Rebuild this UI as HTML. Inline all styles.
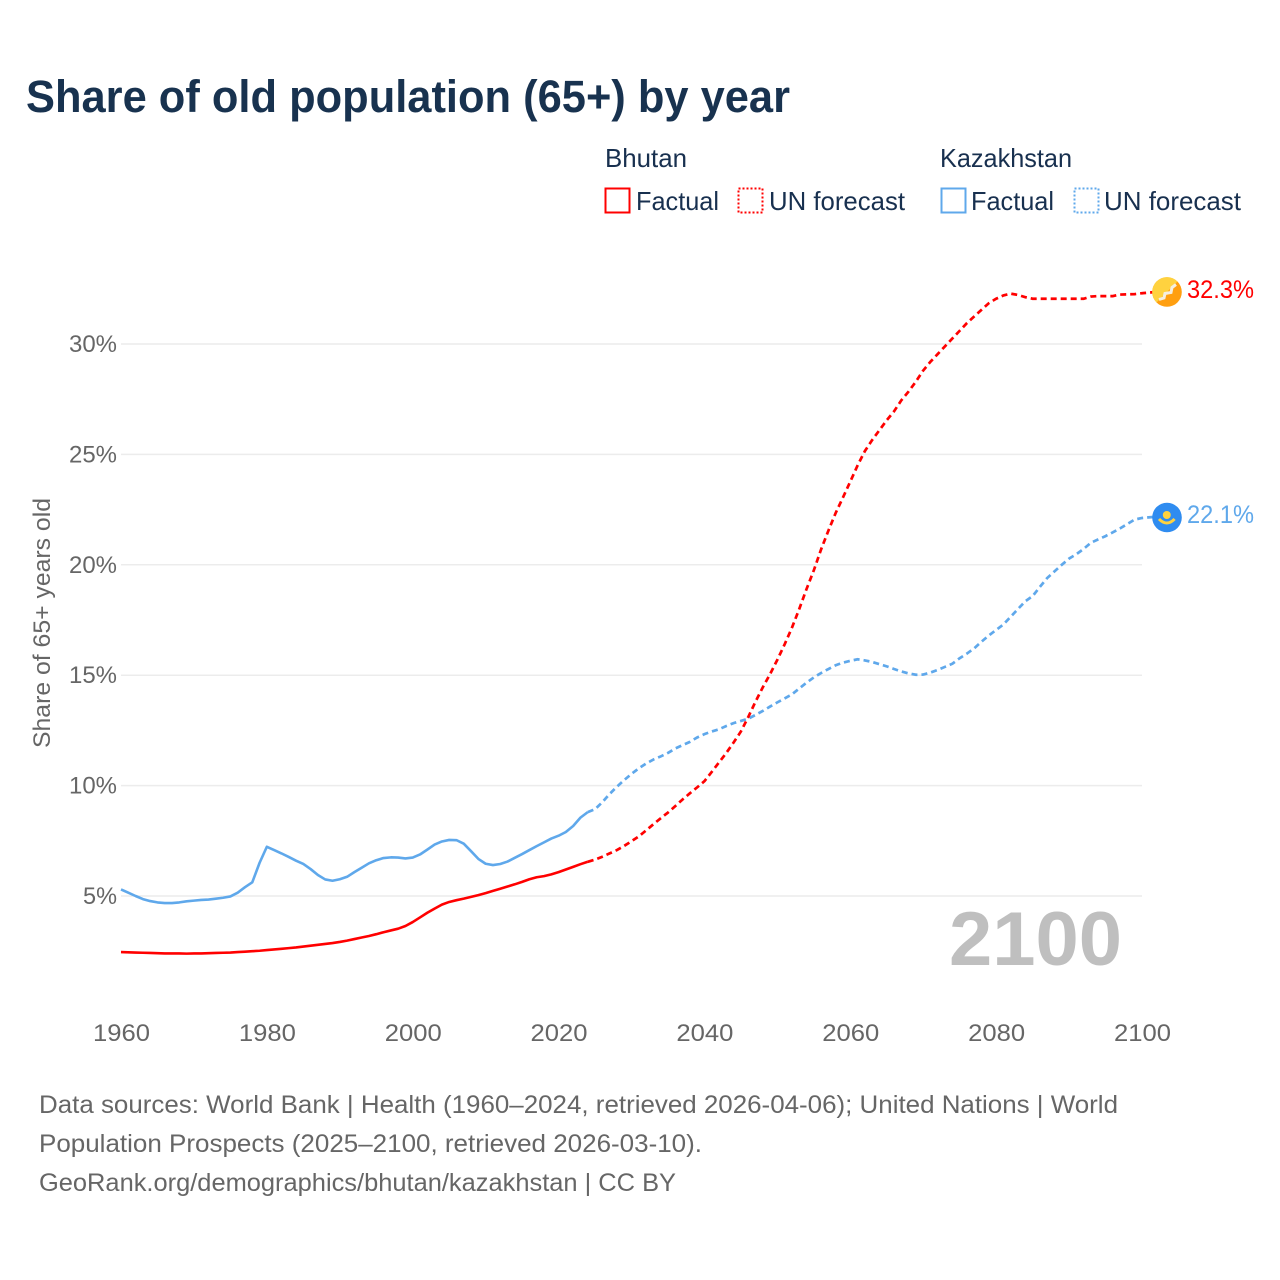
<!DOCTYPE html>
<html lang="en">
<head>
<meta charset="utf-8">
<title>Share of old population (65+) by year</title>
<style>
html,body{margin:0;padding:0;background:#fff}
svg{display:block}
text{font-family:"Liberation Sans",sans-serif}
</style>
</head>
<body>
<svg id="chart" xmlns="http://www.w3.org/2000/svg" width="1280" height="1280" viewBox="0 0 1280 1280">
  <rect x="0" y="0" width="1280" height="1280" fill="#fff"/>
  <text x="26" y="112" font-size="45" font-weight="700" fill="#18324f" textLength="764" lengthAdjust="spacingAndGlyphs">Share of old population (65+) by year</text>

  <g font-size="26" fill="#18304f">
    <text x="605" y="167" textLength="82" lengthAdjust="spacingAndGlyphs">Bhutan</text>
    <text x="940" y="167" textLength="132" lengthAdjust="spacingAndGlyphs">Kazakhstan</text>
    <rect x="605.5" y="188.5" width="24" height="24" fill="none" stroke="#ff0000" stroke-width="2"/>
    <text x="636" y="210" textLength="83" lengthAdjust="spacingAndGlyphs">Factual</text>
    <rect x="738.5" y="188.5" width="24" height="24" fill="none" stroke="#ff0000" stroke-width="2" stroke-dasharray="2 2"/>
    <text x="769" y="210" textLength="136" lengthAdjust="spacingAndGlyphs">UN forecast</text>
    <rect x="941.5" y="188.5" width="24" height="24" fill="none" stroke="#5fa8eb" stroke-width="2"/>
    <text x="971" y="210" textLength="83" lengthAdjust="spacingAndGlyphs">Factual</text>
    <rect x="1074.5" y="188.5" width="24" height="24" fill="none" stroke="#5fa8eb" stroke-width="2" stroke-dasharray="2 2"/>
    <text x="1104" y="210" textLength="137" lengthAdjust="spacingAndGlyphs">UN forecast</text>
  </g>

  <g id="grid"></g>
  <g id="yticks"></g>
  <g id="xticks"></g>
  <text transform="translate(50,748) rotate(-90)" font-size="24" fill="#666" textLength="250" lengthAdjust="spacingAndGlyphs">Share of 65+ years old</text>
  <text x="949" y="965" font-size="76" font-weight="700" fill="#bfbfbf" textLength="173" lengthAdjust="spacingAndGlyphs">2100</text>
  <g id="series"></g>

  <g>
    <circle cx="1167" cy="292" r="14.8" fill="#ff9f10"/>
    <path d="M1156.5 302.5A14.8 14.8 0 0 1 1177.5 281.5Z" fill="#ffd23f"/>
    <path d="M1159 299.5L1164 298L1165 293.5L1171 292.5L1172 287.5L1176 284.5" fill="none" stroke="#f5efe0" stroke-width="3"/>
    <text x="1187" y="298" font-size="25" fill="#ff0000" textLength="67" lengthAdjust="spacingAndGlyphs">32.3%</text>
  </g>
  <g>
    <circle cx="1167" cy="517.5" r="14.8" fill="#2f8cf0"/>
    <circle cx="1166.8" cy="515" r="4" fill="#ffd23f"/>
    <path d="M1159 519Q1166.8 527 1174.6 519" fill="none" stroke="#ffd23f" stroke-width="3"/>
    <text x="1187" y="523" font-size="25" fill="#5fa8eb" textLength="67" lengthAdjust="spacingAndGlyphs">22.1%</text>
  </g>

  <g font-size="25" fill="#666">
    <text x="39" y="1113" textLength="1079" lengthAdjust="spacingAndGlyphs">Data sources: World Bank | Health (1960–2024, retrieved 2026-04-06); United Nations | World</text>
    <text x="39" y="1152" textLength="663" lengthAdjust="spacingAndGlyphs">Population Prospects (2025–2100, retrieved 2026-03-10).</text>
    <text x="39" y="1191" textLength="637" lengthAdjust="spacingAndGlyphs">GeoRank.org/demographics/bhutan/kazakhstan | CC BY</text>
  </g>
</svg>
<script>
const firstYear = 1960;
const xTickYears = [1960, 1980, 2000, 2020, 2040, 2060, 2080, 2100];
const yTickValues = [5, 10, 15, 20, 25, 30];

const bhutanFactual = [
  2.46,2.45,2.44,2.43,2.42,2.41,2.40,2.40,2.40,2.39,
  2.40,2.40,2.41,2.42,2.43,2.44,2.46,2.48,2.50,2.52,
  2.55,2.58,2.61,2.64,2.67,2.71,2.75,2.79,2.83,2.87,
  2.92,2.98,3.05,3.12,3.19,3.27,3.36,3.44,3.52,3.64,
  3.82,4.03,4.24,4.43,4.61,4.73,4.81,4.88,4.96,5.04,
  5.13,5.23,5.33,5.43,5.53,5.64,5.76,5.85,5.90,5.98,
  6.08,6.20,6.32,6.44,6.55
];
const bhutanForecast = [
  6.65,6.78,6.93,7.08,7.27,7.48,7.70,7.97,8.25,8.52,
  8.78,9.07,9.37,9.65,9.92,10.20,10.62,11.05,11.48,11.95,
  12.45,13.10,13.80,14.45,15.05,15.70,16.40,17.15,18.00,18.90,
  19.75,20.70,21.55,22.35,23.05,23.77,24.50,25.15,25.65,26.10,
  26.55,26.95,27.45,27.85,28.30,28.80,29.20,29.55,29.90,30.25,
  30.60,30.95,31.25,31.55,31.85,32.05,32.20,32.28,32.22,32.12,
  32.05,32.05,32.05,32.05,32.05,32.05,32.05,32.05,32.15,32.17,
  32.17,32.17,32.24,32.25,32.26,32.30
];
const kazakhstanFactual = [
  5.30,5.15,5.00,4.86,4.77,4.71,4.68,4.68,4.71,4.76,
  4.79,4.82,4.84,4.88,4.92,4.98,5.15,5.40,5.62,6.50,
  7.23,7.08,6.93,6.77,6.60,6.45,6.22,5.95,5.75,5.69,
  5.76,5.87,6.08,6.28,6.48,6.62,6.72,6.75,6.74,6.70,
  6.74,6.88,7.10,7.33,7.47,7.54,7.53,7.37,7.03,6.68,
  6.46,6.40,6.45,6.56,6.73,6.90,7.08,7.26,7.43,7.60,
  7.73,7.90,8.17,8.55,8.80
];
const kazakhstanForecast = [
  8.93,9.25,9.62,9.95,10.25,10.53,10.78,11.00,11.18,11.32,
  11.48,11.68,11.83,11.98,12.18,12.33,12.45,12.55,12.70,12.83,
  12.93,13.03,13.20,13.38,13.58,13.77,13.95,14.13,14.40,14.66,
  14.90,15.10,15.28,15.45,15.57,15.65,15.72,15.67,15.60,15.50,
  15.40,15.28,15.17,15.08,15.02,15.03,15.12,15.24,15.38,15.52,
  15.77,15.98,16.22,16.52,16.80,17.05,17.30,17.65,18.00,18.35,
  18.58,19.00,19.40,19.70,20.00,20.28,20.48,20.72,21.00,21.15,
  21.30,21.47,21.65,21.85,22.05,22.12
];

const SVG_NS = "http://www.w3.org/2000/svg";
const xOf = function (year) { return 121 + (year - 1960) * (1142 - 121) / 140; };
const yOf = function (value) { return 896 - (value - 5) * (896 - 344) / 25; };
const gridLayer = document.getElementById("grid");
const yTickLayer = document.getElementById("yticks");
const xTickLayer = document.getElementById("xticks");
const seriesLayer = document.getElementById("series");

yTickValues.forEach(function (value) {
  const line = document.createElementNS(SVG_NS, "line");
  
  
  line.setAttribute("x1", xOf(1960));
  line.setAttribute("x2", xOf(2100));
  line.setAttribute("y1", yOf(value));
  line.setAttribute("y2", yOf(value));
  line.setAttribute("stroke", "#ececec");
  line.setAttribute("stroke-width", "1.5");
  gridLayer.appendChild(line);

  const label = document.createElementNS(SVG_NS, "text");
  const labelText = value + "%";
  
  
  label.setAttribute("x", 117);
  label.setAttribute("y", yOf(value) + 8);
  label.setAttribute("text-anchor", "end");
  label.setAttribute("font-size", "24");
  label.setAttribute("fill", "#666");
  label.setAttribute("textLength", labelText.length === 3 ? 48 : 34);
  label.setAttribute("lengthAdjust", "spacingAndGlyphs");
  label.textContent = labelText;
  yTickLayer.appendChild(label);
});

xTickYears.forEach(function (year) {
  const label = document.createElementNS(SVG_NS, "text");
  
  
  label.setAttribute("x", xOf(year) + 0.5);
  label.setAttribute("y", 1041);
  label.setAttribute("text-anchor", "middle");
  label.setAttribute("font-size", "24");
  label.setAttribute("fill", "#666");
  label.setAttribute("textLength", 57);
  label.setAttribute("lengthAdjust", "spacingAndGlyphs");
  label.textContent = year;
  xTickLayer.appendChild(label);
});

function linePath(points) {
  return points.map(function (p, i) {
    return (i === 0 ? "M" : "L") + p[0].toFixed(2) + " " + p[1].toFixed(2);
  }).join("");
}

function drawSeries(name, color, factual, forecast) {
  const factualPoints = factual.map(function (v, i) { return [xOf(firstYear + i), yOf(v)]; });
  const lastFactualIndex = factual.length - 1;
  const forecastPoints = [factualPoints[lastFactualIndex]].concat(forecast.map(function (v, i) {
    return [xOf(firstYear + factual.length + i), yOf(v)];
  }));

  const solid = document.createElementNS(SVG_NS, "path");
  
  
  solid.setAttribute("d", linePath(factualPoints));
  solid.setAttribute("fill", "none");
  solid.setAttribute("stroke", color);
  solid.setAttribute("stroke-width", "2.6");
  solid.setAttribute("stroke-linejoin", "round");
  seriesLayer.appendChild(solid);

  const end = forecastPoints[forecastPoints.length - 1];
  const dashed = document.createElementNS(SVG_NS, "path");
  
  
  dashed.setAttribute("d", linePath(forecastPoints) + "L" + (end[0] + 11).toFixed(2) + " " + (end[1] - 1).toFixed(2));
  dashed.setAttribute("fill", "none");
  dashed.setAttribute("stroke", color);
  dashed.setAttribute("stroke-width", "2.7");
  dashed.setAttribute("stroke-dasharray", "6 4");
  seriesLayer.appendChild(dashed);
}

drawSeries("kazakhstan", "#5fa8eb", kazakhstanFactual, kazakhstanForecast);
drawSeries("bhutan", "#ff0000", bhutanFactual, bhutanForecast);
</script>
</body>
</html>
